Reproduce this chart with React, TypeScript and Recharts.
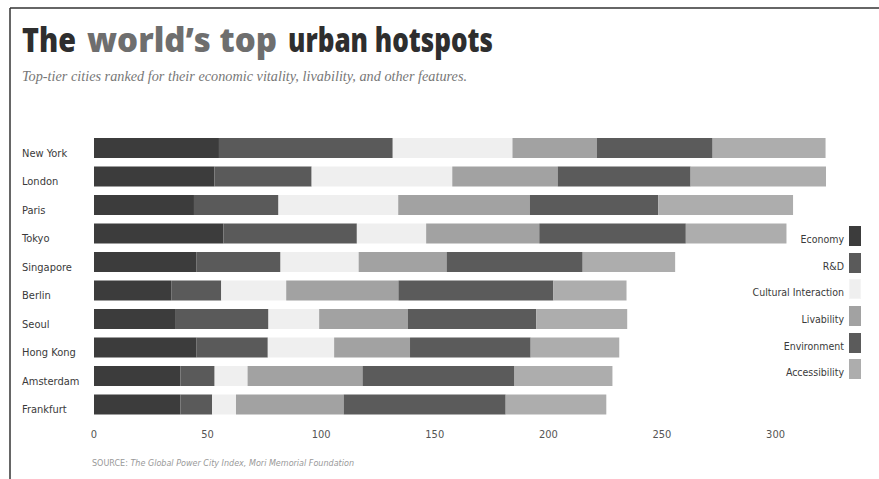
import React from 'react';
import { BarChart, Bar, XAxis, YAxis } from 'recharts';

// cities ranked top to bottom
const cities = ['New York', 'London', 'Paris', 'Tokyo', 'Singapore', 'Berlin', 'Seoul', 'Hong Kong', 'Amsterdam', 'Frankfurt'];

// score per category
const economy = [55, 53, 44, 57, 45, 34, 36, 45, 38, 38];
const rnd = [76.5, 42.8, 37.2, 58.7, 37.1, 22, 40.8, 31.5, 15.1, 14];
const cultural = [52.7, 61.9, 52.7, 30.5, 34.4, 28.6, 22.3, 29.2, 14.5, 10.5];
const livability = [37.1, 46.4, 57.9, 49.8, 38.7, 49.4, 39.1, 33.4, 50.6, 47.4];
const environment = [51, 58.5, 56.6, 64.5, 59.9, 68.2, 56.5, 53.1, 66.9, 71.3];
const accessibility = [49.7, 59.6, 59.3, 44.3, 40.7, 32.2, 40, 39, 43.1, 44.3];

const xTicks = [0, 50, 100, 150, 200, 250, 300];

const SERIES = [
  { key: 'economy', name: 'Economy', color: '#3c3c3c' },
  { key: 'rnd', name: 'R&D', color: '#5a5a5a' },
  { key: 'cultural', name: 'Cultural Interaction', color: '#efefef' },
  { key: 'livability', name: 'Livability', color: '#a2a2a2' },
  { key: 'environment', name: 'Environment', color: '#5b5b5b' },
  { key: 'accessibility', name: 'Accessibility', color: '#adadad' },
];

const data = cities.map((city, i) => ({
  city,
  economy: economy[i],
  rnd: rnd[i],
  cultural: cultural[i],
  livability: livability[i],
  environment: environment[i],
  accessibility: accessibility[i],
}));

const CONDENSED = "'DejaVu Sans Condensed', 'Liberation Sans Narrow', 'Roboto', sans-serif";
const TITLE_FONT = "'Open Sans', 'Roboto', sans-serif";

const CityTick = (props: any) => {
  const { y, payload } = props;
  return (
    <text x={22} y={y + 5} textAnchor="start" dominantBaseline="central"
      fontFamily={CONDENSED} fontSize={11} fill="#3a3a3a" style={{ fontStretch: 'condensed' }}>
      {payload.value}
    </text>
  );
};

const ValueTick = (props: any) => {
  const { x, y, payload } = props;
  return (
    <text x={x} y={y + 13} textAnchor="middle" dominantBaseline="central"
      fontFamily={CONDENSED} fontSize={11} fill="#555" style={{ fontStretch: 'condensed' }}>
      {payload.value}
    </text>
  );
};

export default function App() {
  return (
    <div style={{ position: 'absolute', left: 0, top: 0, width: 879, height: 479, background: '#fff', overflow: 'hidden' }}>
      {/* frame, title, subtitle, source */}
      <svg width={879} height={479} style={{ position: 'absolute', left: 0, top: 0 }}>
        <line x1={10} y1={8} x2={10} y2={479} stroke="#333" strokeWidth={1.5} />
        <line x1={10} y1={8} x2={879} y2={8} stroke="#333" strokeWidth={1.5} />
        <text x={22} y={52} fontFamily={TITLE_FONT} fontWeight={800} fontSize={34}
          textLength={54} lengthAdjust="spacingAndGlyphs" fill="#2e2e2e">The</text>
        <text x={87} y={52} fontFamily={TITLE_FONT} fontWeight={800} fontSize={34}
          textLength={190} lengthAdjust="spacingAndGlyphs" fill="#6e6e6e">world’s top</text>
        <text x={288} y={52} fontFamily={TITLE_FONT} fontWeight={800} fontSize={34}
          textLength={205} lengthAdjust="spacingAndGlyphs" fill="#2e2e2e">urban hotspots</text>
        <text x={22} y={81} fontFamily="'Liberation Serif', serif" fontStyle="italic" fontSize={14}
          textLength={445} lengthAdjust="spacingAndGlyphs" fill="#777">
          Top-tier cities ranked for their economic vitality, livability, and other features.
        </text>
        <text x={92} y={466} fontFamily={CONDENSED} fontSize={8.5} textLength={262}
          lengthAdjust="spacingAndGlyphs" fill="#999">
          <tspan>SOURCE: </tspan>
          <tspan fontStyle="italic">The Global Power City Index, Mori Memorial Foundation</tspan>
        </text>
      </svg>

      <div style={{ position: 'absolute', left: 0, top: 0 }}>
        <BarChart width={879} height={479} data={data} layout="vertical"
          margin={{ top: 134, right: 53, bottom: 40, left: 10 }} barSize={20}>
          <XAxis type="number" domain={[0, 320]} ticks={xTicks} axisLine={false} tickLine={false}
            tickSize={0} height={20} tick={<ValueTick />} />
          <YAxis type="category" dataKey="city" width={84} axisLine={false} tickLine={false}
            tickSize={0} tick={<CityTick />} />
          {SERIES.map((s) => (
            <Bar key={s.key} dataKey={s.key} name={s.name} stackId="a" fill={s.color} isAnimationActive={false} />
          ))}
        </BarChart>
      </div>

      {/* legend */}
      <div style={{ position: 'absolute', left: 690, top: 226, width: 171 }}>
        {SERIES.map((s) => (
          <div key={s.key} style={{ display: 'flex', justifyContent: 'flex-end', alignItems: 'flex-end', height: 20, marginBottom: 6.7 }}>
            <span style={{ fontFamily: CONDENSED, fontStretch: 'condensed', fontSize: 10.5, color: '#3a3a3a', marginRight: 5, lineHeight: '14px' }}>
              {s.name}
            </span>
            <span style={{ display: 'inline-block', width: 12, height: 20, background: s.color, border: s.key === 'cultural' ? '1px solid #f4f4f4' : 'none', boxSizing: 'border-box' }} />
          </div>
        ))}
      </div>
    </div>
  );
}
